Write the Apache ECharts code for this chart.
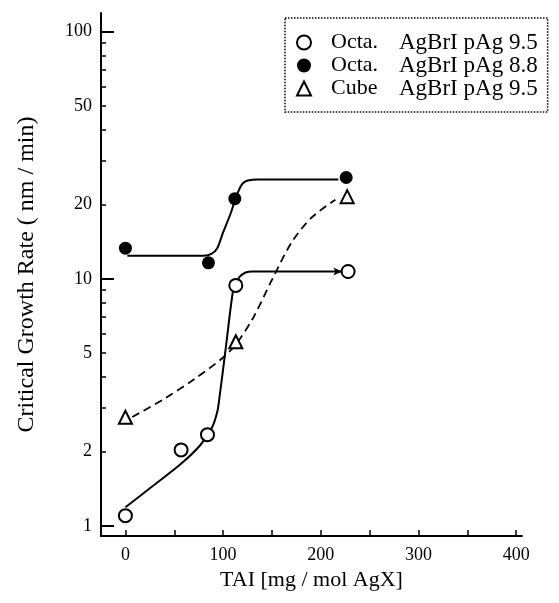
<!DOCTYPE html>
<html>
<head>
<meta charset="utf-8">
<script src="https://cdn.jsdelivr.net/npm/echarts@6/dist/echarts.min.js"></script>
<style>
  html, body { margin: 0; padding: 0; background: #fff; }
  #chart { width: 559px; height: 603px; }
</style>
</head>
<body>
<div id="chart"></div>
<script>
// measured points (TAI mg/mol AgX, rate nm/min)
var names = ['Octa. AgBrI pAg 9.5', 'Octa. AgBrI pAg 8.8', 'Cube AgBrI pAg 9.5'];

var openTai = [0, 57, 84, 113, 228];
var openRate = [1.10, 2.03, 2.34, 9.4, 10.7];
var fillTai = [0, 85, 112, 226];
var fillRate = [13.3, 11.6, 21.1, 25.7];
var cubeTai = [0, 113, 227];
var cubeRate = [2.75, 5.56, 21.5];

// hand drawn guide curves
var openCurveX = [0, 28, 56, 77, 89, 94, 96, 103, 110, 113, 117, 123, 130, 222];
var openCurveY = [1.19, 1.45, 1.77, 2.13, 2.52, 2.89, 3.24, 5.35, 8.86, 9.5, 10.2, 10.6, 10.7, 10.7];
var fillCurveX = [2, 80, 88, 94, 100, 108, 114, 121, 135, 218];
var fillCurveY = [12.4, 12.4, 12.6, 13.3, 15.4, 18.5, 21.8, 24.5, 25.2, 25.2];
var cubeCurveX = [7, 40, 70, 100, 113, 130, 150, 170, 190, 215];
var cubeCurveY = [2.76, 3.27, 3.91, 4.8, 5.42, 6.86, 9.9, 14.0, 17.6, 20.9];

var xLabels = [0, 100, 200, 300, 400];
var xTicks = [0, 50, 100, 150, 200, 250, 300, 350, 400];
var yLabels = [1, 2, 5, 10, 20, 50, 100];
var yTicks = [1, 2, 3, 4, 5, 6, 7, 8, 9, 10, 20, 30, 40, 50, 60, 70, 80, 90, 100];
var yMajor = [1, 10, 100];

var FONT = '"Liberation Serif", "DejaVu Serif", serif';

function pairs(xs, ys) {
    return xs.map(function (x, i) { return [x, ys[i]]; });
}

var chart = echarts.init(document.getElementById('chart'));

var openCurve = pairs(openCurveX, openCurveY);
// small arrow head at the end of the open-circle curve
openCurve[openCurve.length - 1] = {
    value: openCurve[openCurve.length - 1],
    symbol: 'arrow', symbolSize: [6, 9], symbolRotate: -90,
    itemStyle: {color: '#000'}
};

var curveBase = {type: 'line', smooth: 0.3, symbol: 'none', z: 2};

var option = {
    animation: false,
    backgroundColor: '#fff',
    grid: {left: 101, right: 37, top: 13, bottom: 67},
    legend: {
        data: names,
        orient: 'vertical',
        left: 285, top: 18,
        itemWidth: 14, itemHeight: 14, itemGap: 0,
        padding: [13, 10, 12, 11],
        borderColor: '#000', borderWidth: 1.5, borderType: 'dotted',
        formatter: function (name) {
            var k = name.indexOf(' ');
            return '{a|' + name.slice(0, k) + '}{b|' + name.slice(k + 1) + '}';
        },
        textStyle: {
            color: '#000', fontFamily: FONT,
            rich: {
                a: {width: 68, padding: [0, 0, 0, 15], fontSize: 22, lineHeight: 23, fontFamily: FONT, color: '#000'},
                b: {fontSize: 23, lineHeight: 23, fontFamily: FONT, color: '#000'}
            }
        }
    },
    xAxis: {
        type: 'value', min: -25, max: 406,
        name: 'TAI [mg / mol AgX]', nameLocation: 'middle', nameGap: 33,
        nameTextStyle: {fontFamily: FONT, fontSize: 22, color: '#000'},
        axisLine: {onZero: false, lineStyle: {color: '#000', width: 2}},
        axisTick: {inside: true, length: 6, lineStyle: {color: '#000', width: 1.5}, customValues: xTicks},
        axisLabel: {fontFamily: FONT, fontSize: 18, color: '#000', margin: 10, customValues: xLabels},
        splitLine: {show: false}
    },
    yAxis: [{
        type: 'log', min: 0.91, max: 119,
        name: 'Critical Growth Rate ( nm / min)', nameLocation: 'middle', nameGap: 62,
        nameTextStyle: {fontFamily: FONT, fontSize: 24, color: '#000'},
        axisLine: {onZero: false, lineStyle: {color: '#000', width: 2}},
        axisTick: {inside: true, length: 5, lineStyle: {color: '#000', width: 1.5}, customValues: yTicks},
        axisLabel: {fontFamily: FONT, fontSize: 18, color: '#000', margin: 9, customValues: yLabels},
        splitLine: {show: false}
    }, {
        type: 'log', min: 0.91, max: 119, position: 'left',
        axisLine: {show: false, onZero: false},
        axisTick: {inside: true, length: 13, lineStyle: {color: '#000', width: 2}, customValues: yMajor},
        axisLabel: {show: false},
        splitLine: {show: false}
    }],
    series: [
        Object.assign({}, curveBase, {
            name: 'openCurve', data: openCurve, showSymbol: true,
            lineStyle: {color: '#000', width: 2}
        }),
        Object.assign({}, curveBase, {
            name: 'fillCurve', data: pairs(fillCurveX, fillCurveY),
            lineStyle: {color: '#000', width: 2}
        }),
        Object.assign({}, curveBase, {
            name: 'cubeCurve', data: pairs(cubeCurveX, cubeCurveY),
            lineStyle: {color: '#000', width: 1.8, type: [8, 5]}
        }),
        {
            name: names[0], type: 'scatter', data: pairs(openTai, openRate),
            symbol: 'emptyCircle', symbolSize: 13,
            itemStyle: {color: '#000', borderWidth: 2, opacity: 1}, z: 3
        }, {
            name: names[1], type: 'scatter', data: pairs(fillTai, fillRate),
            symbol: 'circle', symbolSize: 13,
            itemStyle: {color: '#000', opacity: 1}, z: 3
        }, {
            name: names[2], type: 'scatter', data: pairs(cubeTai, cubeRate),
            symbol: 'emptyTriangle', symbolSize: 13,
            itemStyle: {color: '#000', borderWidth: 2, opacity: 1}, z: 3
        }
    ]
};

chart.setOption(option);
</script>
</body>
</html>
